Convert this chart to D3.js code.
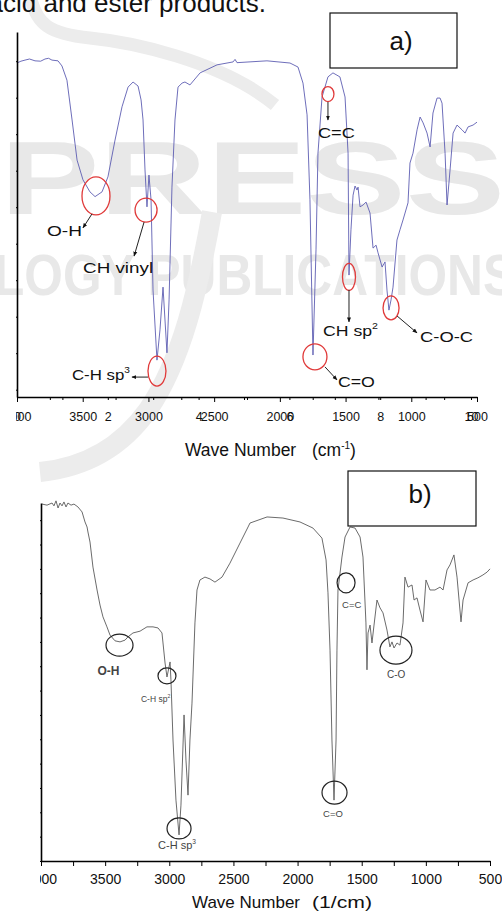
<!DOCTYPE html>
<html>
<head>
<meta charset="utf-8">
<script src="https://cdn.jsdelivr.net/npm/d3@7"></script>
<style>
body { margin: 0; background: #fff; }
svg { display: block; }
text { font-family: "Liberation Sans", Arial, sans-serif; }
</style>
</head>
<body>
<script>
// spectrum a) : wave number (cm-1) and transmittance (%)
const waveA = [4000, 3970, 3939, 3905, 3863, 3820, 3787, 3760, 3734, 3688, 3658, 3620, 3581, 3543, 3498, 3445, 3406, 3353, 3308, 3254,
  3201, 3155, 3117, 3079, 3056, 3041, 3026, 3011, 2996, 2980, 2965, 2935, 2912, 2889, 2874, 2859, 2843, 2821, 2798, 2775,
  2744, 2722, 2684, 2607, 2478, 2356, 2341, 2326, 2098, 1923, 1862, 1824, 1793, 1771, 1748, 1725, 1710, 1679, 1634, 1596,
  1543, 1504, 1481, 1474, 1459, 1443, 1428, 1413, 1405, 1390, 1367, 1344, 1314, 1291, 1268, 1253, 1222, 1200, 1185, 1170,
  1154, 1139, 1109, 1086, 1063, 1025, 1010, 987, 956, 933, 910, 880, 857, 835, 804, 781, 766, 743, 728, 705,
  682, 652, 614, 591, 568, 530, 500];
const transA = [91.5, 92.0, 92.3, 92.6, 92.1, 92.0, 92.6, 92.8, 92.3, 92.1, 90.7, 86.8, 75.9, 64.9, 59.5, 56.2, 54.9, 56.2, 60.3, 70.4,
  79.5, 84.9, 86.3, 85.2, 81.4, 75.9, 62.2, 52.1, 60.8, 54.0, 29.3, 10.1, 18.4, 30.1, 21.1, 12.1, 26.6, 57.5, 75.9, 84.9,
  86.0, 86.3, 85.5, 88.8, 91.0, 91.8, 92.5, 91.6, 92.1, 91.5, 90.4, 86.0, 77.3, 54.0, 11.5, 40.3, 66.8, 82.2, 87.7, 88.8,
  87.7, 82.2, 66.8, 33.4, 45.8, 55.3, 57.8, 56.7, 57.5, 52.1, 52.6, 53.4, 50.4, 40.8, 41.6, 39.5, 35.6, 37.0, 29.3, 23.8,
  26.6, 30.1, 43.0, 45.8, 48.5, 53.2, 64.1, 66.8, 73.2, 76.7, 75.1, 72.3, 68.5, 77.8, 81.9, 81.9, 80.5, 66.8, 52.6, 62.2,
  72.3, 74.5, 73.2, 72.3, 74.0, 74.5, 75.3];

// spectrum b)
const waveB = [3992, 3953, 3914, 3899, 3883, 3867, 3852, 3836, 3821, 3805, 3790, 3766, 3743, 3712, 3680, 3657, 3641, 3634, 3618, 3595,
  3563, 3540, 3517, 3486, 3462, 3423, 3384, 3345, 3322, 3283, 3228, 3174, 3127, 3088, 3057, 3049, 3033, 3018, 3010, 2994,
  2987, 2971, 2948, 2924, 2909, 2885, 2870, 2854, 2839, 2823, 2800, 2784, 2761, 2722, 2683, 2644, 2589, 2527, 2449, 2386,
  2371, 2238, 2114, 1981, 1880, 1810, 1778, 1763, 1747, 1732, 1716, 1700, 1693, 1685, 1654, 1630, 1591, 1552, 1513, 1490,
  1467, 1459, 1451, 1435, 1420, 1404, 1381, 1357, 1334, 1303, 1280, 1264, 1248, 1225, 1202, 1178, 1163, 1139, 1108, 1092,
  1069, 1046, 1022, 999, 968, 929, 890, 866, 835, 812, 781, 757, 726, 710, 671, 632, 594, 555, 523, 500];
const transB = [99.7, 99.4, 100, 99.2, 100.6, 98.6, 100, 99.2, 100.3, 98.9, 100, 99.4, 99.7, 98.9, 97.5, 94.7, 93.3, 91.9, 89.1, 82.1,
  75.7, 71.5, 68.2, 65.4, 63.1, 61.5, 61.2, 61.7, 62.6, 63.7, 64.2, 65.4, 65.4, 65.1, 63.7, 60.9, 55.3, 51.4, 52.8, 55.6,
  50.6, 33.8, 17.0, 7.3, 15.6, 40.8, 28.2, 18.4, 33.8, 44.1, 66.5, 75.7, 78.5, 79.3, 78.8, 77.9, 79.3, 83.2, 88.8, 93.3,
  94.4, 96.1, 95.8, 94.7, 93.0, 90.2, 84.1, 74.9, 58.9, 33.8, 17.0, 33.8, 58.9, 75.7, 84.9, 90.5, 93.3, 93.0, 90.5, 84.9,
  66.5, 53.4, 63.7, 65.9, 60.9, 65.9, 72.9, 70.7, 69.3, 64.5, 59.8, 61.2, 59.5, 60.9, 60.3, 66.5, 79.3, 76.5, 77.1, 72.9,
  73.5, 70.1, 66.8, 78.5, 75.7, 75.7, 76.5, 75.7, 81.3, 82.7, 85.5, 79.3, 66.8, 72.9, 77.7, 78.5, 79.1, 79.9, 80.7, 81.6];

// axis ticks
const majorTicks = [4000, 3500, 3000, 2500, 2000, 1500, 1000, 500];
const minorTicks = [3750, 3250, 2750, 2250, 1750, 1250, 750];
const overlayTicks = [0, 1, 2, 3, 4, 5, 6, 7, 8, 9, 10];
const overlayLabels = ["0", "", "2", "", "4", "", "6", "", "8", "", "10"];

// peak labels (circle at wave number / transmittance)
const annotA = [
  {label: "O-H", sup: "", w: 3399, t: 55.1, rx: 14, ry: 19, arrow: [-4, 18, -13, 32], tx: -14, ty: 40, anchor: "end", len: 35},
  {label: "CH vinyl", sup: "", w: 3018, t: 51.2, rx: 11, ry: 12, arrow: [-2, 12, -12, 46], tx: -63, ty: 63, anchor: "start", len: 70},
  {label: "C-H sp", sup: "3", w: 2935, t: 7.1, rx: 9, ry: 15, arrow: [-9, 6, -25, 6], tx: -27, ty: 9, anchor: "end", len: 58},
  {label: "C=O", sup: "", w: 1733, t: 11.0, rx: 12, ry: 13, arrow: [10, 10, 22, 23], tx: 23, ty: 30, anchor: "start", len: 37},
  {label: "CH sp", sup: "2", w: 1474, t: 32.9, rx: 6.5, ry: 13.5, arrow: [0, 13, 0, 45], tx: -26, ty: 59, anchor: "start", len: 55},
  {label: "C-O-C", sup: "", w: 1154, t: 24.4, rx: 8, ry: 12, arrow: [6, 8, 26, 25], tx: 29, ty: 34, anchor: "start", len: 53},
  {label: "C=C", sup: "", w: 1634, t: 83.0, rx: 6, ry: 7.5, arrow: [0, 8, 0, 26], tx: -10, ty: 44, anchor: "start", len: 37}
];
const annotB = [
  {label: "O-H", sup: "", w: 3388, t: 60.3, rx: 13.5, ry: 11, tx: -11, ty: 30, anchor: "middle", size: 12, bold: true},
  {label: "C-H sp", sup: "2", w: 3018, t: 51.7, rx: 9, ry: 8, tx: -26, ty: 26, anchor: "start", size: 8.5},
  {label: "C-H sp", sup: "3", w: 2924, t: 9.1, rx: 12, ry: 10.5, tx: -21, ty: 20.5, anchor: "start", size: 11},
  {label: "C=C", sup: "", w: 1622, t: 77.7, rx: 9, ry: 10, tx: -4, ty: 25, anchor: "start", size: 9.5},
  {label: "C=O", sup: "", w: 1712, t: 19.1, rx: 12.5, ry: 11.5, tx: -11.5, ty: 24.5, anchor: "start", size: 9.5},
  {label: "C-O", sup: "", w: 1233, t: 58.9, rx: 16, ry: 14, tx: -9, ty: 28, anchor: "start", size: 10}
];

var width = 502, height = 915;

var svg = d3.select("body").append("svg")
    .attr("width", width)
    .attr("height", height);

var defs = svg.append("defs");
defs.append("marker")
    .attr("id", "arrow")
    .attr("viewBox", "0 0 10 10")
    .attr("refX", 9).attr("refY", 5)
    .attr("markerWidth", 5).attr("markerHeight", 5)
    .attr("orient", "auto")
  .append("path")
    .attr("d", "M0,1L10,5L0,9z")
    .attr("fill", "#111");
defs.append("clipPath").attr("id", "clipA")
  .append("rect").attr("x", 16).attr("y", 0).attr("width", 486).attr("height", 470);
defs.append("clipPath").attr("id", "clipB")
  .append("rect").attr("x", 40).attr("y", 470).attr("width", 462).attr("height", 445);

// watermark of the scanned page
var wm = svg.append("g").attr("fill", "#e8e8e8");
wm.append("text")
    .attr("x", 0).attr("y", 214)
    .attr("font-family", "DejaVu Sans").attr("font-weight", "bold")
    .attr("font-size", 104)
    .attr("textLength", 505).attr("lengthAdjust", "spacingAndGlyphs")
    .text("PRESS");
wm.append("text")
    .attr("x", -6).attr("y", 295)
    .attr("font-family", "DejaVu Sans").attr("font-weight", "bold")
    .attr("font-size", 58)
    .attr("textLength", 522).attr("lengthAdjust", "spacingAndGlyphs")
    .text("LOGY PUBLICATIONS");
wm.append("path")
    .attr("d", "M30,-5 C36,25 50,34 90,38 S220,60 275,105")
    .attr("fill", "none").attr("stroke", "#ececec").attr("stroke-width", 13);
wm.append("path")
    .attr("d", "M212,212 C198,290 182,360 148,410 C118,452 80,468 40,472")
    .attr("fill", "none").attr("stroke", "#ececec").attr("stroke-width", 20);

// page text above the figure
svg.append("text")
    .attr("x", -11.5).attr("y", 12)
    .attr("font-family", "Liberation Serif, Times New Roman, serif")
    .attr("font-size", 26)
    .attr("fill", "#111")
    .text("acid and ester products.");

// scales
var xA = d3.scaleLinear().domain([4000, 500]).range([17, 477]);
var xA2 = d3.scaleLinear().domain([0, 10]).range([17, 471]);
var yA = d3.scaleLinear().domain([0, 100]).range([397, 32]);
var xB = d3.scaleLinear().domain([4000, 500]).range([41, 490]);
var yB = d3.scaleLinear().domain([0, 100]).range([861, 503]);

function label(g, x, y, main, sup, size, anchor, len, color, bold) {
  var t = g.append("text")
      .attr("x", x).attr("y", y)
      .attr("font-size", size)
      .attr("text-anchor", anchor)
      .attr("fill", color);
  if (bold) t.attr("font-weight", "bold");
  t.append("tspan").text(main);
  if (sup) t.append("tspan").attr("dy", -size * 0.45).attr("font-size", size * 0.6).text(sup);
  if (len) t.attr("textLength", len).attr("lengthAdjust", "spacingAndGlyphs");
  return t;
}

// ---------- chart a ----------
var gA = svg.append("g");

var lineA = d3.line()
    .x(function(d) { return xA(d[0]); })
    .y(function(d) { return yA(d[1]); });
gA.append("path")
    .datum(d3.zip(waveA, transA))
    .attr("fill", "none")
    .attr("stroke", "#5d5db2")
    .attr("stroke-width", 0.9)
    .attr("d", lineA);

var axA = gA.append("g").attr("clip-path", "url(#clipA)");
axA.append("g")
    .attr("transform", "translate(17,0)")
    .call(d3.axisLeft(yA).tickValues(d3.range(2, 100, 10)).tickSize(3).tickSizeOuter(0).tickFormat(""));
axA.append("g")
    .attr("transform", "translate(0,397)")
    .call(d3.axisBottom(xA).tickValues(minorTicks).tickSize(3).tickFormat(""))
    .call(function(g) { g.select(".domain").remove(); });
axA.append("g")
    .attr("transform", "translate(0,397)")
    .call(d3.axisBottom(xA2).tickValues(overlayTicks).tickSize(3).tickPadding(12)
      .tickFormat(function(d, i) { return overlayLabels[i]; }))
    .call(function(g) { g.select(".domain").remove(); });
axA.append("g")
    .attr("transform", "translate(0,397)")
    .call(d3.axisBottom(xA).tickValues(majorTicks).tickSize(5).tickSizeOuter(0).tickPadding(10).tickFormat(d3.format("d")));
axA.selectAll(".domain").attr("stroke-width", 1.6);
axA.selectAll("text").attr("font-size", 12.5).attr("font-family", "Liberation Sans, Arial, sans-serif").attr("fill", "#111");

gA.append("text")
    .attr("x", 185).attr("y", 456)
    .attr("font-size", 17.5).attr("fill", "#111")
    .text("Wave Number");
var tA = gA.append("text").attr("x", 312).attr("y", 456).attr("font-size", 17.5).attr("fill", "#111");
tA.append("tspan").text("(cm");
tA.append("tspan").attr("dy", -7).attr("font-size", 10).text("-1");
tA.append("tspan").attr("dy", 7).text(")");

annotA.forEach(function(a) {
  var cx = xA(a.w), cy = yA(a.t);
  gA.append("ellipse")
      .attr("cx", cx).attr("cy", cy).attr("rx", a.rx).attr("ry", a.ry)
      .attr("fill", "none").attr("stroke", "#e03a3a").attr("stroke-width", 1.3);
  gA.append("line")
      .attr("x1", cx + a.arrow[0]).attr("y1", cy + a.arrow[1])
      .attr("x2", cx + a.arrow[2]).attr("y2", cy + a.arrow[3])
      .attr("stroke", "#222").attr("stroke-width", 1)
      .attr("marker-end", "url(#arrow)");
  label(gA, cx + a.tx, cy + a.ty, a.label, a.sup, 15, a.anchor, a.len, "#111");
});

// box a)
gA.append("rect")
    .attr("x", 330).attr("y", 13).attr("width", 127).attr("height", 55)
    .attr("fill", "#fff").attr("stroke", "#111").attr("stroke-width", 1.2);
gA.append("text")
    .attr("x", 401).attr("y", 50)
    .attr("text-anchor", "middle")
    .attr("font-family", "Liberation Serif, Times New Roman, serif")
    .attr("font-size", 26).attr("fill", "#111")
    .text("a)");

// ---------- chart b ----------
var gB = svg.append("g");

var lineB = d3.line()
    .x(function(d) { return xB(d[0]); })
    .y(function(d) { return yB(d[1]); });
gB.append("path")
    .datum(d3.zip(waveB, transB))
    .attr("fill", "none")
    .attr("stroke", "#5a5a5a")
    .attr("stroke-width", 0.9)
    .attr("d", lineB);

var axB = gB.append("g").attr("clip-path", "url(#clipB)");
axB.append("g")
    .attr("transform", "translate(41,0)")
    .call(d3.axisLeft(yB).tickValues(d3.range(0, 101, 6.8)).tickSize(3).tickSizeOuter(0).tickFormat(""));
axB.append("g")
    .attr("transform", "translate(0,861)")
    .call(d3.axisBottom(xB).tickValues(minorTicks).tickSize(5).tickFormat(""))
    .call(function(g) { g.select(".domain").remove(); });
axB.append("g")
    .attr("transform", "translate(0,861)")
    .call(d3.axisBottom(xB).tickValues(majorTicks).tickSize(5).tickSizeOuter(0).tickPadding(8).tickFormat(d3.format("d")));
axB.selectAll(".domain").attr("stroke-width", 1.6);
axB.selectAll("text").attr("font-size", 14).attr("font-family", "Liberation Sans, Arial, sans-serif").attr("fill", "#111");

gB.append("text")
    .attr("x", 192).attr("y", 908)
    .attr("font-size", 17).attr("fill", "#111")
    .text("Wave Number");
gB.append("text")
    .attr("x", 312).attr("y", 908)
    .attr("font-size", 17).attr("fill", "#111")
    .attr("textLength", 60).attr("lengthAdjust", "spacingAndGlyphs")
    .text("(1/cm)");

annotB.forEach(function(a) {
  var cx = xB(a.w), cy = yB(a.t);
  gB.append("ellipse")
      .attr("cx", cx).attr("cy", cy).attr("rx", a.rx).attr("ry", a.ry)
      .attr("fill", "none").attr("stroke", "#222").attr("stroke-width", 1.2);
  label(gB, cx + a.tx, cy + a.ty, a.label, a.sup, a.size, a.anchor, null, "#444", a.bold);
});

// box b)
gB.append("rect")
    .attr("x", 348).attr("y", 471).attr("width", 128).attr("height", 55)
    .attr("fill", "#fff").attr("stroke", "#111").attr("stroke-width", 1.2);
gB.append("text")
    .attr("x", 420).attr("y", 503)
    .attr("text-anchor", "middle")
    .attr("font-family", "Liberation Serif, Times New Roman, serif")
    .attr("font-size", 26).attr("fill", "#111")
    .text("b)");
</script>
</body>
</html>
